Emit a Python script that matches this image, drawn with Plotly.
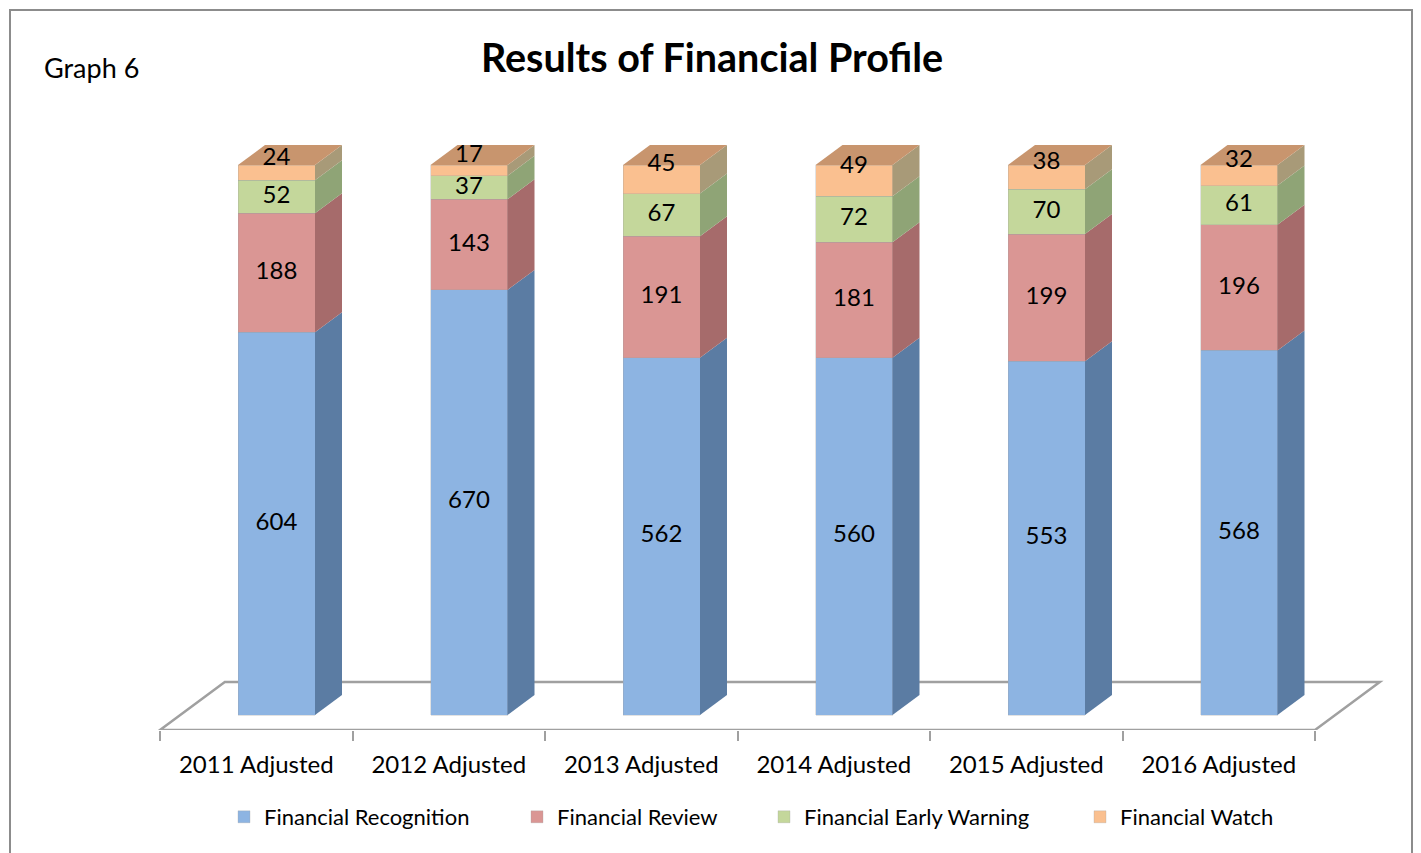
import plotly.graph_objects as go

# ---------------- data ----------------
categories = ["2011 Adjusted", "2012 Adjusted", "2013 Adjusted",
              "2014 Adjusted", "2015 Adjusted", "2016 Adjusted"]
series_names = ["Financial Recognition", "Financial Review",
                "Financial Early Warning", "Financial Watch"]
recognition = [604, 670, 562, 560, 553, 568]
review = [188, 143, 191, 181, 199, 196]
early_warning = [52, 37, 67, 72, 70, 61]
watch = [24, 17, 45, 49, 38, 32]

series_values = [recognition, review, early_warning, watch]
front_colors = ["#8DB4E2", "#DA9694", "#C4D79B", "#FAC090"]
side_colors = ["#5B7CA3", "#A66B6B", "#8FA476", "#A89A78"]
top_color = "#C8956E"

# ---------------- geometry ----------------
OFF = 8                      # page body margin
W, H = 1421 - OFF, 853 - OFF
ML, MR, MT, MB = 150 - OFF, 21, 100 - OFF, 123
PX_X = 192.5
PX_Y = 5.5
SLANT = 1.35
BAR_FRONT_DEPTH = 15
BAR_DEPTH = 20
FLOOR_DEPTH = 48
BAR_W = 0.4

def depth_dx(d):
    return SLANT * d / PX_X

def depth_dy(d):
    return d / PX_Y

n = len(categories)
idx = list(range(n))
totals = [sum(s[i] for s in series_values) for i in idx]
pct = [[s[i] / totals[i] * 100 for i in idx] for s in series_values]

front_shift = depth_dx(BAR_FRONT_DEPTH)
xbar = [i + front_shift for i in idx]
ddx, ddy = depth_dx(BAR_DEPTH), depth_dy(BAR_DEPTH)

plot_w = W - ML - MR
plot_h = H - MT - MB
x0 = -0.5 - 10 / PX_X
x1 = x0 + plot_w / PX_X
y0 = -depth_dy(BAR_FRONT_DEPTH)
y1 = y0 + plot_h / PX_Y

FONT = "Lato"
legend_ids = ["legend", "legend2", "legend3", "legend4"]
legend_px = [238, 531, 778, 1094]   # page x of each legend square

fig = go.Figure()

for k, name in enumerate(series_names):
    fig.add_trace(go.Bar(
        x=xbar, y=series_values[k], name=name, width=BAR_W,
        legend=legend_ids[k],
        marker=dict(color=front_colors[k], line=dict(color="rgba(160,160,160,0.5)", width=0.6)),
        hoverinfo="name+y",
    ))

for i in idx:
    xr = xbar[i] + BAR_W / 2
    xl = xbar[i] - BAR_W / 2
    base = 0.0
    for k in range(len(series_names)):
        top = base + pct[k][i]
        fig.add_trace(go.Scatter(
            x=[xr, xr + ddx, xr + ddx, xr, xr],
            y=[base, base + ddy, top + ddy, top, base],
            fill="toself", mode="lines", line=dict(width=0),
            fillcolor=side_colors[k], showlegend=False, hoverinfo="skip"))
        base = top
    fig.add_trace(go.Scatter(
        x=[xl, xl + ddx, xr + ddx, xr, xl],
        y=[base, base + ddy, base + ddy, base, base],
        fill="toself", mode="lines", line=dict(width=0),
        fillcolor=top_color, showlegend=False, hoverinfo="skip"))

lx, ly, lt = [], [], []
for i in idx:
    base = 0.0
    for k in range(len(series_names)):
        top = base + pct[k][i]
        if k == len(series_names) - 1:
            yy = (base + top + 1.4 * ddy) / 2
        else:
            yy = (base + top) / 2
        lx.append(xbar[i]); ly.append(yy); lt.append(str(series_values[k][i]))
        base = top
fig.add_trace(go.Scatter(x=lx, y=ly, text=lt, mode="text",
                         textfont=dict(family=FONT, size=24, color="black"),
                         showlegend=False, hoverinfo="skip"))

fdx, fdy = depth_dx(FLOOR_DEPTH), depth_dy(FLOOR_DEPTH)
fl, fr = -0.5, n - 0.5
floor_path = (f"M{fl},{y0} L{fr},{y0} L{fr + fdx},{y0 + fdy} "
              f"L{fl + fdx},{y0 + fdy} Z")

def px_to_paper_x(px):
    return (px - OFF - ML) / plot_w

def px_to_paper_y(py):
    return (H - MB - (py - OFF)) / plot_h

legends = {}
for k, lid in enumerate(legend_ids):
    legends[lid] = dict(orientation="h", x=(legend_px[k] - OFF - 14) / W, xref="container",
                        xanchor="left", y=1 - (817 - OFF) / H, yref="container",
                        yanchor="middle", bgcolor="rgba(0,0,0,0)",
                        font=dict(family=FONT, size=22, color="black"))

fig.update_layout(
    width=W, height=H,
    margin=dict(l=ML, r=MR, t=MT, b=MB),
    paper_bgcolor="white", plot_bgcolor="rgba(0,0,0,0)",
    barmode="stack", barnorm="percent",
    font=dict(family=FONT, size=22, color="black"),
    title=dict(text="<b>Results of Financial Profile</b>", x=(712 - OFF) / W, xref="container",
               y=1 - (58 - OFF) / H, yref="container", xanchor="center", yanchor="middle",
               font=dict(family=FONT, size=39.5, color="black")),
    xaxis=dict(range=[x0, x1], tickvals=idx, ticktext=categories, ticks="",
               showgrid=False, zeroline=False, showline=False,
               ticklabelstandoff=18,
               tickfont=dict(family=FONT, size=24, color="black"),
               minor=dict(tickvals=[i - 0.5 for i in range(n + 1)], ticks="outside",
                          ticklen=10, tickcolor="#A0A0A0", tickwidth=2, showgrid=False)),
    yaxis=dict(range=[y0, y1], showticklabels=False, showgrid=False,
               zeroline=False, showline=False),
    shapes=[
        dict(type="path", path=floor_path, xref="x", yref="y", layer="below",
             line=dict(color="#A0A0A0", width=2.5), fillcolor="white"),
        dict(type="rect", xref="paper", yref="paper",
             x0=px_to_paper_x(10), x1=px_to_paper_x(1412),
             y0=px_to_paper_y(853 + 20), y1=px_to_paper_y(10),
             line=dict(color="#8C8C8C", width=2), fillcolor="rgba(0,0,0,0)", layer="below"),
    ],
    annotations=[
        dict(text="Graph 6", xref="paper", yref="paper", x=px_to_paper_x(42),
             y=px_to_paper_y(68), xanchor="left", yanchor="middle", showarrow=False,
             font=dict(family=FONT, size=27, color="black")),
    ],
    **legends,
)

fig.write_html("out.html")
